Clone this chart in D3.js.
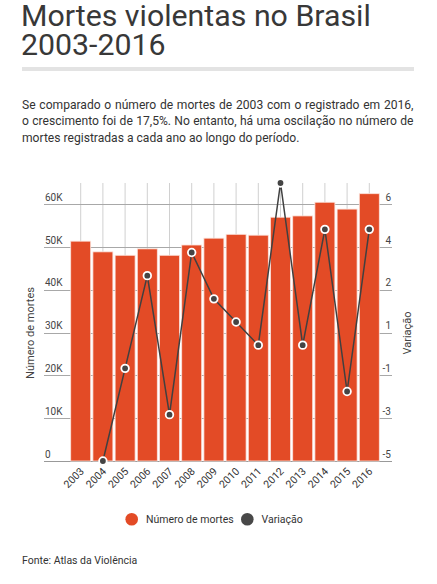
<!DOCTYPE html>
<html>
<head>
<meta charset="utf-8">
<script src="https://cdn.jsdelivr.net/npm/d3@7"></script>
<style>
  html, body { margin: 0; padding: 0; background: #fff; }
  svg text { font-family: Roboto, "Noto Sans", sans-serif; }
</style>
</head>
<body>
<svg id="chart" width="437" height="584"></svg>
<script>
// ---- data ----
const years = ["2003","2004","2005","2006","2007","2008","2009","2010","2011","2012","2013","2014","2015","2016"];
const deaths = [51400, 48900, 48100, 49600, 48100, 50500, 52100, 53000, 52800, 57000, 57300, 60500, 58900, 62500];
const variation = [null, -5, -1, 3, -3, 4, 2, 1, 0, 7, 0, 5, -2, 5];
const leftTicks = [0, 10000, 20000, 30000, 40000, 50000, 60000];
const leftTickLabels = ["0", "10K", "20K", "30K", "40K", "50K", "60K"];
const titleLines = ["Mortes violentas no Brasil", "2003-2016"];
const paragraphLines = [
  "Se comparado o número de mortes de 2003 com o registrado em 2016,",
  "o crescimento foi de 17,5%. No entanto, há uma oscilação no número de",
  "mortes registradas a cada ano ao longo do período."
];
const seriesNames = ["Número de mortes", "Variação"];
const sourceText = "Fonte: Atlas da Violência";

// ---- styles ----
const barColor = "#e34b26";
const lineColor = "#404040";
const textColor = "#333";

const svg = d3.select("#chart");

// title
svg.selectAll("text.title").data(titleLines).join("text")
  .attr("class", "title")
  .attr("x", 21)
  .attr("y", (d, i) => 25.5 + i * 29.5)
  .attr("font-size", 30.3)
  .attr("fill", "#383838")
  .text(d => d);

// rule
svg.append("rect").attr("x", 22).attr("y", 67).attr("width", 392).attr("height", 4).attr("fill", "#e3e3e3");

// paragraph (justified lines)
const para = svg.selectAll("text.para").data(paragraphLines).join("text")
  .attr("class", "para")
  .attr("x", 22)
  .attr("y", (d, i) => 108.5 + i * 16.7)
  .attr("font-size", 12.1)
  .attr("fill", textColor)
  .text(d => d);
para.each(function(d, i) {
  if (i < paragraphLines.length - 1) {
    const len = this.getComputedTextLength();
    const spaces = (d.match(/ /g) || []).length;
    const ws = Math.max(0, (391.5 - len) / spaces);
    d3.select(this).attr("word-spacing", ws);
  }
});

// ---- chart ----
const plotTop = 183, plotBottom = 461, plotLeft = 69.6, plotRight = 380.4;
const x = d3.scaleBand().domain(years).range([plotLeft, plotRight]).paddingInner(0.1).paddingOuter(0.05);
const yL = d3.scaleLinear().domain([0, 65000]).range([plotBottom, plotTop]);
const yR = d3.scaleLinear().domain([-5, 7]).range([plotBottom, plotTop]);

const g = svg.append("g");

// vertical grid lines
g.selectAll("line.vgrid").data(years).join("line")
  .attr("class", "vgrid")
  .attr("x1", d => x(d) + x.bandwidth() / 2)
  .attr("x2", d => x(d) + x.bandwidth() / 2)
  .attr("y1", plotTop).attr("y2", plotBottom)
  .attr("stroke", "#d0d0d0").attr("stroke-width", 1);

// horizontal grid lines
g.selectAll("line.hgrid").data(leftTicks).join("line")
  .attr("class", "hgrid")
  .attr("x1", 44).attr("x2", 392)
  .attr("y1", d => Math.round(yL(d)) + 0.5)
  .attr("y2", d => Math.round(yL(d)) + 0.5)
  .attr("stroke", d => d === 0 ? "#999" : "#a8a8a8").attr("stroke-width", 1);

// left tick labels
g.selectAll("text.lt").data(leftTicks).join("text")
  .attr("class", "lt")
  .attr("x", 45)
  .attr("y", d => yL(d) - 3.5)
  .attr("font-size", 10)
  .attr("fill", "#444")
  .text((d, i) => leftTickLabels[i]);

// right tick labels (aligned with left ticks)
g.selectAll("text.rt").data(leftTicks).join("text")
  .attr("class", "rt")
  .attr("x", 391)
  .attr("y", d => yL(d) - 3.5)
  .attr("text-anchor", "end")
  .attr("font-size", 10)
  .attr("fill", "#444")
  .text(d => Math.round(yR.invert(yL(d))));

// bars
g.selectAll("rect.bar").data(years).join("rect")
  .attr("class", "bar")
  .attr("x", d => x(d))
  .attr("width", x.bandwidth())
  .attr("y", (d, i) => yL(deaths[i]))
  .attr("height", (d, i) => plotBottom - yL(deaths[i]))
  .attr("fill", barColor)
  .attr("stroke", "#fbe3dc").attr("stroke-width", 0.8);

// line
const pts = years.map((d, i) => ({ year: d, v: variation[i] })).filter(p => p.v !== null);
const line = d3.line().x(p => x(p.year) + x.bandwidth() / 2).y(p => yR(p.v));
g.append("path").datum(pts)
  .attr("d", line)
  .attr("fill", "none")
  .attr("stroke", lineColor)
  .attr("stroke-width", 1.5);

g.selectAll("circle.pt").data(pts).join("circle")
  .attr("class", "pt")
  .attr("cx", p => x(p.year) + x.bandwidth() / 2)
  .attr("cy", p => yR(p.v))
  .attr("r", 3.8)
  .attr("fill", "#444")
  .attr("stroke", "#fff").attr("stroke-width", 1.8);

// x labels
g.selectAll("text.xl").data(years).join("text")
  .attr("class", "xl")
  .attr("transform", d => `translate(${x(d) + x.bandwidth() / 2 + 4},${472}) rotate(-45)`)
  .attr("text-anchor", "end")
  .attr("font-size", 10.5)
  .attr("fill", textColor)
  .text(d => d);

// axis titles
svg.append("text")
  .attr("transform", "translate(34,333) rotate(-90)")
  .attr("text-anchor", "middle")
  .attr("font-size", 11)
  .attr("fill", "#444")
  .text(seriesNames[0]);
svg.append("text")
  .attr("transform", "translate(411,333) rotate(-90)")
  .attr("text-anchor", "middle")
  .attr("font-size", 11)
  .attr("fill", "#444")
  .text(seriesNames[1]);

// legend
const legendColors = [barColor, "#484848"];
const legendX = [131.7, 247.3];
const lg = svg.selectAll("g.leg").data(seriesNames).join("g").attr("class", "leg");
lg.append("circle")
  .attr("cx", (d, i) => legendX[i]).attr("cy", 519.3).attr("r", 6.3)
  .attr("fill", (d, i) => legendColors[i]);
lg.append("text")
  .attr("x", (d, i) => legendX[i] + 14.3).attr("y", 523)
  .attr("font-size", 10.5).attr("fill", textColor)
  .text(d => d);

// source
svg.append("text")
  .attr("x", 22).attr("y", 564)
  .attr("font-size", 10.5).attr("fill", textColor)
  .text(sourceText);
</script>
</body>
</html>
